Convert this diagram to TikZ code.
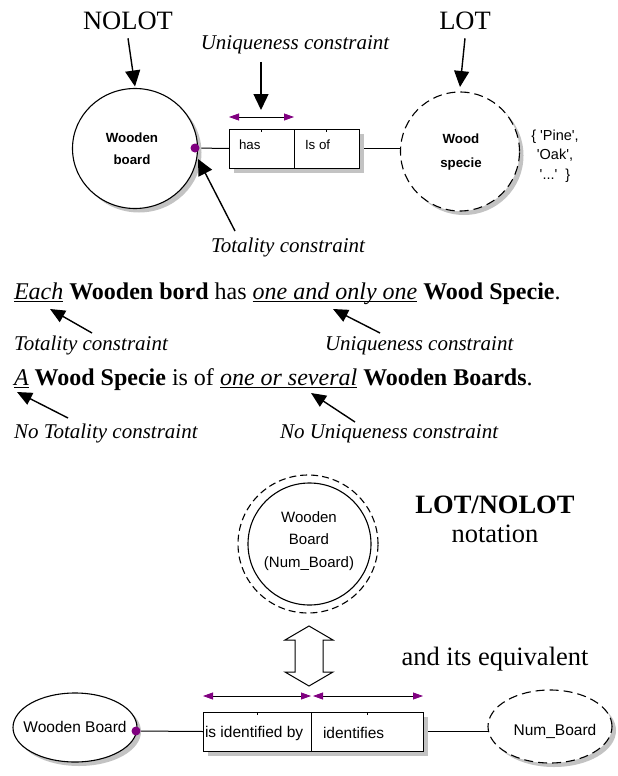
\documentclass[tikz,border=0pt]{standalone}
\usepackage{fontspec}
\setmainfont{Liberation Serif}
\setsansfont{Liberation Sans}
\usetikzlibrary{arrows.meta,shapes.geometric,shadows,backgrounds}
\definecolor{mypurple}{RGB}{128,0,128}
\definecolor{shadowgray}{RGB}{195,195,195}
\newcommand\myul[1]{\setbox0\hbox{#1}\rlap{\rule[-3.2pt]{\wd0}{1.1pt}}\box0\relax}
\newcommand\fs[2]{\fontsize{#1}{#2}\selectfont}
\tikzset{ptip/.tip={Triangle[width=7pt,length=10pt,fill=mypurple,color=mypurple]}}
\begin{document}
\begin{tikzpicture}[x=1pt,y=-1pt,
  every node/.style={inner sep=0pt,outer sep=0pt},
  bigarrow/.style={line width=1.4pt,-{Triangle[width=15pt,length=16pt]}},
  slantarrow/.style={line width=1.4pt,-{Triangle[width=13pt,length=15pt]}},
  parrow/.style={line width=0.8pt,{ptip}-{ptip}},
  bigtext/.style={font=\fs{26.5}{30}},
  sentence/.style={font=\fs{24}{28}},
  lbl/.style={font=\fs{21}{25}\itshape},
  objshape/.style={ellipse,draw,line width=1.1pt,fill=white},
  lotshape/.style={ellipse,draw,line width=1.1pt,fill=white,dash pattern=on 9pt off 5pt},
  shad/.style={drop shadow={shadow xshift=4pt,shadow yshift=-4pt,fill=shadowgray,opacity=1}},
  boxshad/.style={drop shadow={shadow xshift=5pt,shadow yshift=-5pt,fill=shadowgray,opacity=1}},
  relcell/.style={rectangle,draw,line width=1pt,fill=white},
  dot/.style={circle,fill=mypurple,minimum size=9pt},
  conn/.style={line width=1pt},
  sanstext/.style={font=\fs{13.3}{16}\sffamily},
  bottext/.style={font=\fs{15.5}{19}\sffamily},
]
\useasboundingbox (0,0) rectangle (618,776);

% ---------- top part ----------
\node[bigtext,anchor=base] (nolot) at (128,30) {NOLOT};
\node[bigtext,anchor=base] (lot) at (465,30) {LOT};
\node[lbl,anchor=base] (uniq) at (295,50) {Uniqueness constraint};
\node[lbl,anchor=base] (tot) at (288,252) {Totality constraint};

\node[objshape,shad,minimum width=125pt,minimum height=120pt] (wb) at (135,148.5) {};
\node[font=\fs{13.3}{22}\sffamily\bfseries,align=center] (wbt) at (132,149) {Wooden\\board};

\node[lotshape,shad,minimum width=119pt,minimum height=119pt] (ws) at (460,151.5) {};
\node[font=\fs{13.3}{24}\sffamily\bfseries,align=center] (wst) at (461,152) {Wood\\specie};
\node[font=\fs{14.5}{19.5}\sffamily,align=center] (vals) at (555,156) {\{ \textquotesingle Pine\textquotesingle,\\\textquotesingle Oak\textquotesingle,\\\textquotesingle...\textquotesingle\ \ \}};

\node[relcell,boxshad,minimum width=65pt,minimum height=39pt] (has) at (261.5,148.5) {};
\node[relcell,boxshad,minimum width=65pt,minimum height=39pt] (isof) at (326.5,148.5) {};
\node[sanstext,anchor=west] (hast) at (239,145) {has};
\node[sanstext,anchor=west] (isoft) at (305,145) {Is of};
\draw[line width=0.6pt] (has.north) -- ++(0,3);
\draw[line width=0.6pt] (isof.north) -- ++(0,3);

\node[dot] (wbdot) at (195,148) {};
\begin{scope}[on background layer]
\draw[conn] (wbdot) -- (has.west);
\draw[conn] (isof.east) -- (isof.east -| ws.west);
\end{scope}

\draw[bigarrow] ([yshift=-8pt]nolot.south) -- ([yshift=2pt]wb.north);
\draw[bigarrow] ([yshift=-8pt]lot.south) -- ([yshift=5pt]ws.north);
\coordinate (utail) at (261,62);
\coordinate (utip) at (261,110);
\draw[bigarrow] (utail) -- (utip);
\draw[parrow] ([yshift=12pt]has.north west) -- ([yshift=12pt]has.north east);
\coordinate (ttail) at (235,231);
\coordinate (ttip) at (198,159);
\draw[bigarrow] (ttail) -- (ttip);

% ---------- sentences ----------
\node[sentence,anchor=base west] (s1) at (14,299) {\myul{\itshape Each} \textbf{Wooden bord} has \myul{\itshape one and only one} \textbf{Wood Specie}.};
\node[sentence,anchor=base west] (s2) at (14,385) {\myul{\itshape A} \textbf{Wood Specie} is of \myul{\itshape one or several} \textbf{Wooden Boards}.};
\node[lbl,anchor=base west] (l1) at (14,350) {Totality constraint};
\node[lbl,anchor=base west] (l2) at (325,350) {Uniqueness constraint};
\node[lbl,anchor=base west] (l3) at (14,438) {No Totality constraint};
\node[lbl,anchor=base west] (l4) at (280,438) {No Uniqueness constraint};

\coordinate (a1s) at (92,333); \coordinate (a1e) at (50,309);
\coordinate (a2s) at (380,333); \coordinate (a2e) at (333,309);
\coordinate (a3s) at (68,418); \coordinate (a3e) at (17,392);
\coordinate (a4s) at (355,422); \coordinate (a4e) at (311,393);
\draw[slantarrow] (a1s) -- (a1e);
\draw[slantarrow] (a2s) -- (a2e);
\draw[slantarrow] (a3s) -- (a3e);
\draw[slantarrow] (a4s) -- (a4e);

% ---------- bottom part ----------
\node[lotshape,dash pattern=on 7pt off 4pt,minimum width=140pt,minimum height=138pt] (outer) at (308,544) {};
\node[objshape,minimum width=123pt,minimum height=122pt] (inner) at (309.5,544) {};
\node[font=\fs{15}{22.5}\sffamily,align=center] (innert) at (309,541) {Wooden\\Board\\(Num\_Board)};

\node[font=\fs{26.5}{30}\bfseries,anchor=base] (lotnolot) at (495,513) {LOT/NOLOT};
\node[bigtext,anchor=base] (notation) at (495,542) {notation};
\node[bigtext,anchor=base] (equiv) at (495,665) {and its equivalent};

\draw[line width=1pt,fill=white] (309,626) -- (333,640) -- (323,640) -- (323,672) -- (333,672) -- (309,686)
  -- (285,672) -- (295,672) -- (295,640) -- (285,640) -- cycle;

\node[objshape,shad,minimum width=124pt,minimum height=69pt] (wb2) at (75,727.5) {};
\node[bottext] (wb2t) at (75,727) {Wooden Board};
\node[lotshape,shad,minimum width=124pt,minimum height=73pt] (nb) at (550,726.5) {};
\node[bottext] (nbt) at (555,731) {Num\_Board};

\node[relcell,boxshad,minimum width=108pt,minimum height=39pt] (idby) at (257,731.5) {};
\node[relcell,boxshad,minimum width=112pt,minimum height=39pt] (idf) at (367,731.5) {};
\node[bottext,anchor=west] (idbyt) at (205,733) {is identified by};
\node[bottext,anchor=west] (idft) at (323,733) {identifies};
\draw[line width=0.6pt] (idby.north) -- ++(0,3);
\draw[line width=0.6pt] (idf.north) -- ++(0,3);

\node[dot] (wb2dot) at (136,731) {};
\begin{scope}[on background layer]
\draw[conn] (wb2dot) -- (idby.west);
\draw[conn] (idf.east) -- (idf.east -| nb.west);
\end{scope}

\draw[parrow] ([yshift=16pt]idby.north west) -- ([yshift=16pt]idby.north east);
\draw[parrow] ([yshift=16pt,xshift=2pt]idf.north west) -- ([yshift=16pt]idf.north east);
\end{tikzpicture}
\end{document}
